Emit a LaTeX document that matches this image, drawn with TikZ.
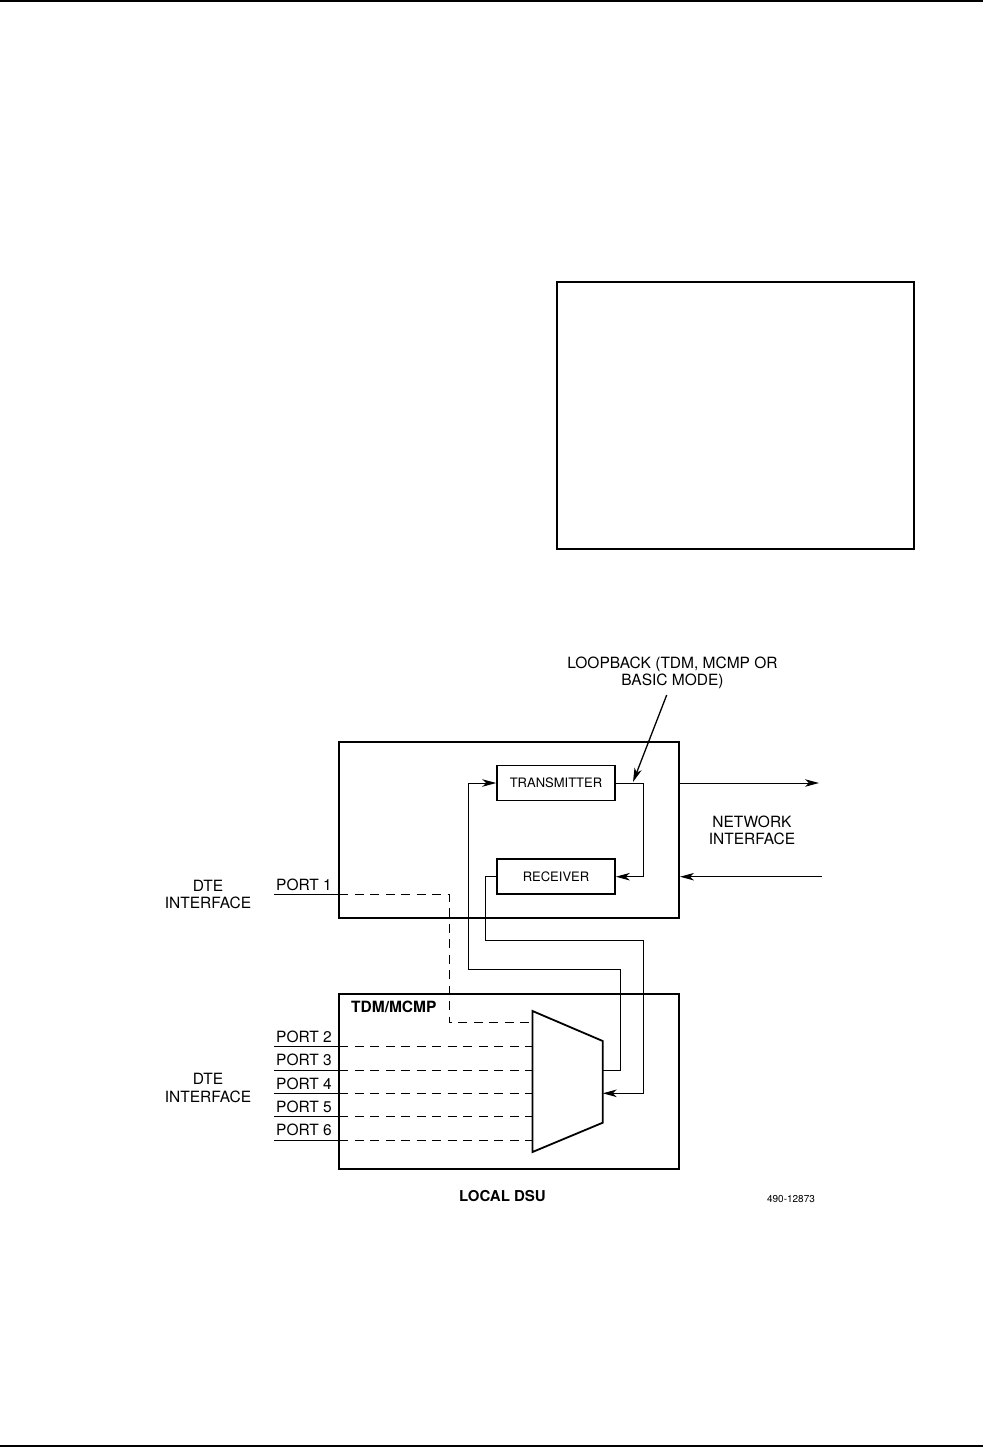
\documentclass[tikz,border=0pt]{standalone}
\usepackage{fontspec}
\setmainfont{TeX Gyre Heros}
\usetikzlibrary{arrows.meta}

\tikzset{
  lbl/.style={inner sep=0pt, align=center, font=\fontsize{15.5}{17.5}\selectfont},
  blockbox/.style={draw, line width=1.6pt, minimum width=118pt, minimum height=35pt,
    inner sep=0pt, font=\fontsize{13}{15}\selectfont},
  sig/.style={line width=1pt, -{Stealth[length=14pt,width=7.5pt,inset=4pt]}},
  tdmline/.style={line width=1pt, dash pattern=on 9pt off 6.5pt},
}

\begin{document}
\begin{tikzpicture}[x=1pt,y=-1pt]

      \useasboundingbox (0,0) rectangle (985,1447);

      % page rules and the empty frame
      \draw[line width=2pt] (0,1) -- (983,1);
      \draw[line width=2pt] (0,1446) -- (983,1446);
      \draw[line width=1.6pt] (557,282) rectangle (914,549);

      % local dsu and the tdm/mcmp card
      \draw[line width=2pt] (339,742) rectangle (679,918);
      \draw[line width=2pt] (339,994) rectangle (679,1169);
      \draw[line width=1.8pt] (532.5,1011) -- (602.7,1041) -- (602.7,1122.7) -- (532.5,1152) -- cycle;

      \begin{scope}[every node/.style={blockbox}]
        \node (tx) at (556,783) {TRANSMITTER};
        \node (rx) at (556,876.7) {RECEIVER};
      \end{scope}

      \begin{scope}[every node/.style={lbl}]
        \node (loopback) at (672.5,673) {LOOPBACK (TDM, MCMP OR\\BASIC MODE)};
        \node (netif) at (752,830.5) {NETWORK\\INTERFACE};
        \node (dteup) at (208,894.5) {DTE\\INTERFACE};
        \node (dtelow) at (208,1088) {DTE\\INTERFACE};
        \node[anchor=base west] (p1) at (276,890) {PORT 1};
        \node[anchor=base west] (p2) at (276,1042.5) {PORT 2};
        \node[anchor=base west] (p3) at (276,1065.8) {PORT 3};
        \node[anchor=base west] (p4) at (276,1089.1) {PORT 4};
        \node[anchor=base west] (p5) at (276,1112.5) {PORT 5};
        \node[anchor=base west] (p6) at (276,1135.8) {PORT 6};
        \node[anchor=base west, font=\fontsize{15.5}{17.5}\selectfont\bfseries] (tdm) at (351,1012) {TDM/MCMP};
        \node[anchor=base, font=\fontsize{15}{17.5}\selectfont\bfseries] (dsu) at (502.5,1201.7) {LOCAL DSU};
        \node[anchor=base, font=\fontsize{10}{12}\selectfont] (figno) at (791,1202.7) {490-12873};
      \end{scope}

      % port ends
      \coordinate (port1) at (274,894);
      \coordinate (port1in) at (339,894);
      \coordinate (port1bend) at (449,1022.7);
      \coordinate (mux1) at (532.5,1022.7);
      \coordinate (port2) at (274,1046.7);
      \coordinate (port2in) at (339,1046.7);
      \coordinate (mux2) at (532.5,1046.7);
      \coordinate (port3) at (274,1070);
      \coordinate (port3in) at (339,1070);
      \coordinate (mux3) at (532.5,1070);
      \coordinate (port4) at (274,1093.3);
      \coordinate (port4in) at (339,1093.3);
      \coordinate (mux4) at (532.5,1093.3);
      \coordinate (port5) at (274,1116.7);
      \coordinate (port5in) at (339,1116.7);
      \coordinate (mux5) at (532.5,1116.7);
      \coordinate (port6) at (274,1140);
      \coordinate (port6in) at (339,1140);
      \coordinate (mux6) at (532.5,1140);

      % bends of the signal paths
      \coordinate (muxout) at (602.7,1070);
      \coordinate (muxin) at (602.7,1093.3);
      \coordinate (txup) at (620.7,969);
      \coordinate (txleft) at (468,783);
      \coordinate (rxdown) at (485,940);
      \coordinate (rxright) at (643.7,1093.3);
      \coordinate (loop) at (643.7,830);
      \coordinate (netout) at (679,783);
      \coordinate (netoutend) at (819,783);
      \coordinate (netin) at (822,876.7);
      \coordinate (netinend) at (680,876.7);
      \coordinate (lbtail) at (666.7,695);
      \coordinate (lbtip) at (633,782);

      \begin{scope}[line width=1pt]
        \draw (port1) -- (port1in);
        \draw (port2) -- (port2in);
        \draw (port3) -- (port3in);
        \draw (port4) -- (port4in);
        \draw (port5) -- (port5in);
        \draw (port6) -- (port6in);
      \end{scope}

      \begin{scope}[every path/.style={tdmline}]
        \draw (port1in) -| (port1bend) -- (mux1);
        \draw (port2in) -- (mux2);
        \draw (port3in) -- (mux3);
        \draw (port4in) -- (mux4);
        \draw (port5in) -- (mux5);
        \draw (port6in) -- (mux6);
      \end{scope}

      \draw[sig] (muxout) -| (txup) -| (txleft) -- (tx.west);
      \draw[sig] (rx.west) -| (rxdown) -| (rxright) -- (muxin);
      \draw[sig] (tx.east) -| (loop) |- (rx.east);
      \draw[sig] (netout) -- (netoutend);
      \draw[sig] (netin) -- (netinend);
      \draw[sig, line width=1.3pt] (lbtail) -- (lbtip);

\end{tikzpicture}
\end{document}
